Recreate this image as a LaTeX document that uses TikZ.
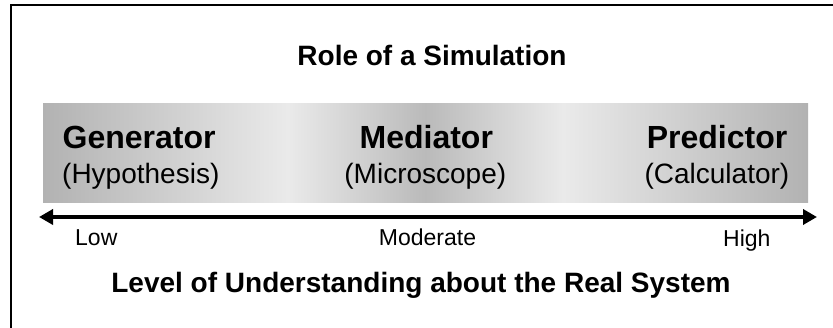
\documentclass[tikz,border=0pt]{standalone}
\usepackage{fontspec}
\setmainfont{Liberation Sans}
\usetikzlibrary{arrows.meta}

% light-dark-light band: darker at both ends and in the centre
\definecolor{bandedge}{RGB}{178,178,178}
\definecolor{bandlight}{RGB}{234,234,234}
\definecolor{bandmid}{RGB}{186,186,186}
\pgfdeclarehorizontalshading{rolebandshade}{100bp}{%
  color(0bp)=(bandedge); color(25bp)=(bandedge);
  color(41bp)=(bandlight); color(50bp)=(bandmid);
  color(59bp)=(bandlight); color(75bp)=(bandedge);
  color(100bp)=(bandedge)}

\tikzset{
  heading/.style={inner sep=0pt, font=\fontsize{28}{34}\selectfont\bfseries},
  rolename/.style={inner sep=0pt, font=\fontsize{32}{38}\selectfont\bfseries},
  roleuse/.style={inner sep=0pt, font=\fontsize{28}{34}\selectfont},
  levelmark/.style={inner sep=0pt, font=\fontsize{23}{28}\selectfont},
  scalearrow/.style={line width=4pt, {Triangle[length=14pt,width=15pt]}-{Triangle[length=14pt,width=15pt]}},
  frame/.style={line width=2pt}
}

\begin{document}
\begin{tikzpicture}[x=1pt,y=-1pt]
  \useasboundingbox (0,0) rectangle (833,328);
  \clip (0,0) rectangle (833,328);

  % outer frame (runs past the right and bottom edges)
  \draw[frame] (11,340) -- (11,5) -- (845,5);

  % title
  \node[heading, anchor=base] (title) at (432,66) {Role of a Simulation};

  % shaded band holding the three roles
  \shade[shading=rolebandshade] (43,104) rectangle (808,203);

  \node[rolename, anchor=base west] (gen) at (62.5,149) {Generator};
  \node[roleuse, anchor=base west] (genuse) at (62,184) {(Hypothesis)};

  \node[rolename, anchor=base] (med) at (426.3,149) {Mediator};
  \node[roleuse, anchor=base] (meduse) at (425.3,184) {(Microscope)};

  \node[rolename, anchor=base east] (pred) at (787.5,149) {Predictor};
  \node[roleuse, anchor=base east] (preduse) at (789.5,184) {(Calculator)};

  % understanding scale
  \coordinate (lowend) at (39,217);
  \coordinate (highend) at (817,217);
  \draw[scalearrow] (lowend) -- (highend);

  \node[levelmark, anchor=base west] (low) at (75,246) {Low};
  \node[levelmark, anchor=base] (moderate) at (427.5,246) {Moderate};
  \node[levelmark, anchor=base west] (high) at (723,246.5) {High};

  \node[heading, anchor=base] (axis) at (421,293) {Level of Understanding about the Real System};
\end{tikzpicture}
\end{document}
